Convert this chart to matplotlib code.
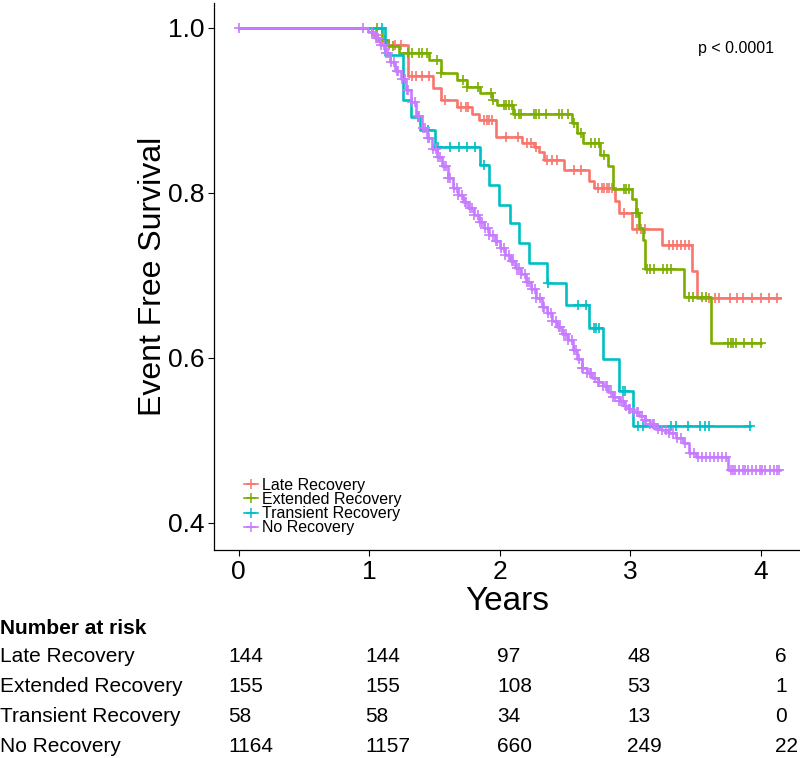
import matplotlib
matplotlib.use("Agg")
import matplotlib.pyplot as plt
from matplotlib.lines import Line2D
import numpy as np

plt.rcParams["font.family"] = ["Liberation Sans", "DejaVu Sans"]

RED = "#F8766D"
GREEN = "#7CAE00"
TEAL = "#00BFC4"
PURPLE = "#C77CFF"

GROUPS = ["Late Recovery", "Extended Recovery", "Transient Recovery", "No Recovery"]

# step curves (time in years, survival after the step)
late_t = [0, 1.02, 1.06, 1.12, 1.30, 1.49, 1.55, 1.67, 1.79, 1.84, 1.97, 2.17, 2.26, 2.30, 2.34, 2.49, 2.68, 2.72, 2.88, 2.91, 3.01, 3.24, 3.47, 3.51, 4.15]
late_s = [1.0, 0.991, 0.984, 0.979, 0.941, 0.927, 0.913, 0.904, 0.895, 0.888, 0.868, 0.860, 0.855, 0.850, 0.840, 0.828, 0.814, 0.806, 0.790, 0.775, 0.756, 0.737, 0.705, 0.672, 0.672]
late_cens = [1.05, 1.10, 1.15, 1.20, 1.24, 1.33, 1.36, 1.40, 1.46, 1.58, 1.70, 1.74, 1.76, 1.88, 1.90, 1.92, 1.94, 2.05, 2.14, 2.21, 2.24, 2.28, 2.36, 2.40, 2.44, 2.57, 2.62,
             2.75, 2.78, 2.80, 2.82, 2.84, 2.86, 2.95, 3.05, 3.08, 3.11, 3.30, 3.33, 3.36, 3.39, 3.42, 3.45, 3.60, 3.65, 3.68, 3.76, 3.82, 3.86, 3.93, 4.00, 4.06, 4.12]

ext_t = [0, 1.10, 1.14, 1.23, 1.46, 1.55, 1.67, 1.75, 1.85, 1.94, 1.98, 2.10, 2.55, 2.59, 2.64, 2.77, 2.83, 2.87, 3.01, 3.04, 3.07, 3.10, 3.11, 3.41, 3.62, 4.00]
ext_s = [1.0, 0.985, 0.978, 0.969, 0.961, 0.945, 0.937, 0.928, 0.921, 0.913, 0.906, 0.895, 0.885, 0.873, 0.860, 0.846, 0.832, 0.804, 0.792, 0.775, 0.757, 0.743, 0.708, 0.674, 0.618, 0.618]
ext_cens = [1.06, 1.12, 1.18, 1.30, 1.33, 1.38, 1.40, 1.44, 1.52, 1.55, 1.72, 1.75, 1.83, 1.93, 1.95, 2.03, 2.05, 2.07, 2.09, 2.12, 2.15, 2.16, 2.26, 2.28, 2.30, 2.35,
            2.45, 2.48, 2.52, 2.57, 2.62, 2.70, 2.73, 2.76, 2.80, 2.95, 2.97, 2.99, 3.04, 3.06, 3.13, 3.15, 3.18, 3.25, 3.28, 3.31, 3.45, 3.48, 3.55, 3.58,
            3.75, 3.77, 3.79, 3.81, 3.87, 3.93, 4.00]

tr_t = [0, 1.12, 1.26, 1.32, 1.39, 1.50, 1.85, 1.92, 1.99, 2.08, 2.15, 2.22, 2.36, 2.51, 2.68, 2.79, 2.91, 3.02, 3.92]
tr_s = [1.0, 0.967, 0.913, 0.892, 0.876, 0.856, 0.834, 0.810, 0.785, 0.763, 0.739, 0.715, 0.691, 0.664, 0.636, 0.598, 0.560, 0.517, 0.517]
tr_cens = [1.10, 1.37, 1.45, 1.53, 1.62, 1.69, 1.75, 1.81, 1.88, 2.37, 2.60, 2.66, 2.72, 2.74, 2.76, 2.94, 2.96, 3.06, 3.10, 3.31, 3.35, 3.44, 3.53, 3.57, 3.60, 3.92]

no_t = [0, 0.99, 1.04, 1.08, 1.12, 1.16, 1.20, 1.24, 1.28, 1.32, 1.36, 1.40, 1.44, 1.48, 1.52, 1.56, 1.60, 1.64, 1.68, 1.72, 1.76, 1.80, 1.84, 1.88, 1.92, 1.96,
        2.00, 2.04, 2.08, 2.12, 2.16, 2.20, 2.24, 2.28, 2.32, 2.36, 2.40, 2.44, 2.48, 2.52, 2.56, 2.59, 2.63, 2.67, 2.71, 2.75, 2.79, 2.83, 2.87, 2.91,
        2.95, 2.99, 3.03, 3.07, 3.11, 3.15, 3.19, 3.24, 3.30, 3.35, 3.40, 3.45, 3.50, 3.75, 4.15]
no_s = [1.0, 0.995, 0.988, 0.979, 0.969, 0.958, 0.948, 0.938, 0.925, 0.910, 0.893, 0.878, 0.866, 0.853, 0.843, 0.832, 0.818, 0.806, 0.797, 0.789, 0.781, 0.773, 0.765, 0.757, 0.749, 0.741,
        0.733, 0.725, 0.717, 0.709, 0.701, 0.692, 0.683, 0.672, 0.662, 0.654, 0.645, 0.637, 0.629, 0.621, 0.610, 0.598, 0.588, 0.581, 0.576, 0.571, 0.566, 0.559, 0.553, 0.547,
        0.542, 0.538, 0.534, 0.530, 0.525, 0.520, 0.514, 0.512, 0.509, 0.503, 0.497, 0.484, 0.480, 0.464, 0.464]
no_cens = [0.0, 0.95, 1.02, 1.05, 1.07, 1.09, 1.11, 1.13, 1.14, 1.17, 1.19, 1.21, 1.22, 1.25, 1.27, 1.29, 1.30, 1.33, 1.35, 1.37, 1.38, 1.41, 1.43, 1.45,
           1.46, 1.49, 1.51, 1.53, 1.54, 1.57, 1.59, 1.60, 1.62, 1.65, 1.67, 1.68, 1.71, 1.73, 1.74, 1.77, 1.79, 1.80, 1.83, 1.85, 1.86, 1.89, 1.91,
           1.92, 1.95, 1.97, 1.98, 2.01, 2.03, 2.04, 2.07, 2.09, 2.10, 2.13, 2.15, 2.16, 2.19, 2.21, 2.22, 2.25, 2.27, 2.28, 2.31, 2.33, 2.34, 2.37,
           2.39, 2.40, 2.43, 2.45, 2.46, 2.49, 2.51, 2.52, 2.55, 2.57, 2.58, 2.61, 2.63, 2.64, 2.67, 2.69, 2.70, 2.73, 2.75, 2.76, 2.79, 2.81, 2.82,
           2.85, 2.87, 2.88, 2.91, 2.93, 2.94, 2.97, 2.99, 3.00, 3.03, 3.05, 3.06, 3.09, 3.11, 3.12, 3.15, 3.17, 3.18, 3.21, 3.24, 3.27, 3.30, 3.33,
           3.36, 3.39, 3.42, 3.46, 3.49, 3.52, 3.55, 3.58, 3.61, 3.64, 3.67, 3.70, 3.73, 3.77, 3.79, 3.80, 3.83, 3.86, 3.88, 3.90, 3.93, 3.96, 3.99,
           4.01, 4.03, 4.07, 4.10, 4.12, 4.14]

# number at risk table
risk_times = [0, 1, 2, 3, 4]
risk_late = [144, 144, 97, 48, 6]
risk_ext = [155, 155, 108, 53, 1]
risk_tr = [58, 58, 34, 13, 0]
risk_no = [1164, 1157, 660, 249, 22]

curves = [(late_t, late_s, late_cens, RED), (ext_t, ext_s, ext_cens, GREEN),
          (tr_t, tr_s, tr_cens, TEAL), (no_t, no_s, no_cens, PURPLE)]

fig = plt.figure(figsize=(8, 7.58), dpi=100)
ax = fig.add_axes([214 / 800, 208 / 758, 586 / 800, 547 / 758])

for t, s, cens, col in curves:
    t = np.array(t); s = np.array(s)
    ax.step(t, s, where="post", color=col, lw=1.9, zorder=3)
    idx = np.searchsorted(t, cens, side="right") - 1
    ax.plot(cens, s[idx], ls="none", marker="+", ms=7, mew=1.2, color=col, zorder=3)

ax.set_xlim(-0.19, 4.30)
ax.set_ylim(0.367, 1.03)
ax.set_xticks(risk_times)
ax.set_yticks([0.4, 0.6, 0.8, 1.0])
ax.set_yticklabels(["0.4", "0.6", "0.8", "1.0"])
ax.tick_params(labelsize=19, length=4, width=0.8, colors="black", pad=3)
for sp in ("top", "right"):
    ax.spines[sp].set_visible(False)
for sp in ("left", "bottom"):
    ax.spines[sp].set_linewidth(0.9)
ax.set_xlabel("Years", fontsize=24, labelpad=2)
ax.set_ylabel("Event Free Survival", fontsize=23, labelpad=0)

ax.text(4.10, 0.975, "p < 0.0001", fontsize=11.5, ha="right", va="center")

handles = [Line2D([0], [0], color=c, marker="+", lw=1.2, ms=7, mew=1.1) for c in (RED, GREEN, TEAL, PURPLE)]
ax.legend(handles, GROUPS, loc="lower left", bbox_to_anchor=(0.04, 0.015), frameon=False,
          fontsize=11.5, handlelength=0.9, handletextpad=0.25, labelspacing=-0.05, borderaxespad=0)

# number at risk table
col_x = [228, 365, 497, 627, 775]
row_y = [657, 687, 717, 746]
fig.text(0 / 800, 1 - 629 / 758, "Number at risk", fontsize=15, fontweight="bold",
         va="center", ha="left")
for name, vals, y in zip(GROUPS, [risk_late, risk_ext, risk_tr, risk_no], row_y):
    fig.text(0, 1 - y / 758, name, fontsize=15, va="center", ha="left")
    for v, x in zip(vals, col_x):
        fig.text(x / 800, 1 - y / 758, str(v), fontsize=15, va="center", ha="left")

fig.savefig("out.png", dpi=100, facecolor="white")
